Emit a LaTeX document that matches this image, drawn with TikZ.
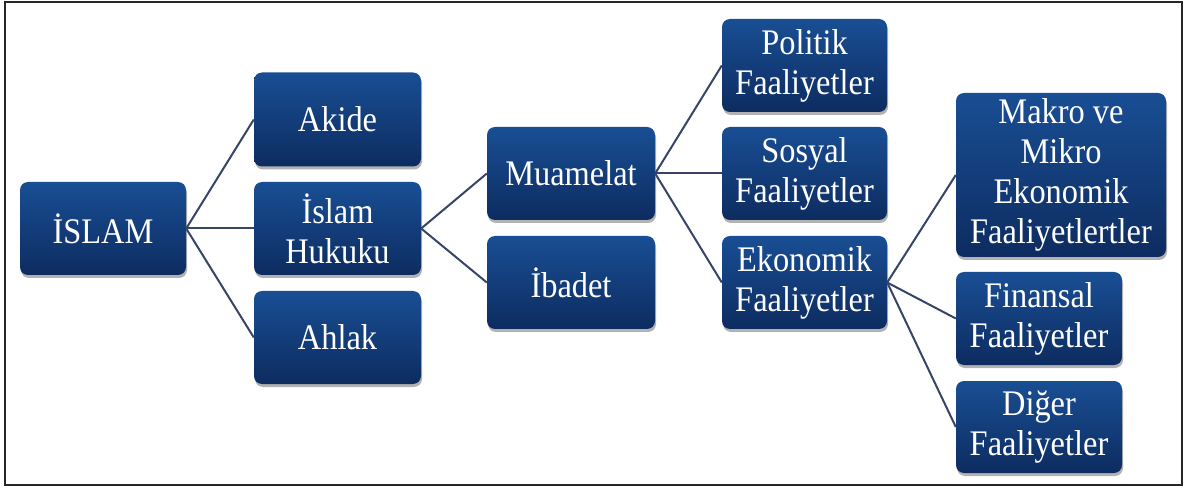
\documentclass[tikz,border=0pt]{standalone}
\usepackage{fontspec}
\setmainfont{Liberation Serif}[FakeStretch=0.9]
\usetikzlibrary{shadows}
\definecolor{boxtop}{RGB}{25,78,148}
\definecolor{boxmid}{RGB}{20,68,136}
\definecolor{boxbot}{RGB}{13,44,96}
\definecolor{linkc}{RGB}{55,68,104}
\tikzset{
  box/.style={rectangle, rounded corners=8pt, top color=boxtop, middle color=boxmid, bottom color=boxbot,
    draw=none, text=white, align=center, inner sep=0pt,
    font=\fontsize{36}{40}\selectfont,
    drop shadow={shadow xshift=1pt, shadow yshift=-3pt, opacity=0.3, fill=black}},
  link/.style={draw=linkc, line width=2pt}
}
\begin{document}
\begin{tikzpicture}[x=1pt,y=-1pt]
\useasboundingbox (0,0) rectangle (1187,489);
\draw[line width=2pt, black!85] (5,2) rectangle (1182,485);
\node[box, minimum width=166pt, minimum height=93pt] (islam) at (103,228.5) {İSLAM};
\node[box, minimum width=167pt, minimum height=94pt] (akide) at (337.5,119.5) {Akide};
\node[box, minimum width=167pt, minimum height=93pt] (hukuk) at (337.5,228.5) {İslam\\Hukuku};
\node[box, minimum width=167pt, minimum height=93pt] (ahlak) at (337.5,337.5) {Ahlak};
\node[box, minimum width=168pt, minimum height=93pt] (muam) at (571,173.5) {Muamelat};
\node[box, minimum width=168pt, minimum height=93pt] (ibadet) at (571,282.5) {İbadet};
\node[box, minimum width=165pt, minimum height=93pt] (politik) at (804.5,65.5) {Politik\\Faaliyetler};
\node[box, minimum width=165pt, minimum height=93pt] (sosyal) at (804.5,173.5) {Sosyal\\Faaliyetler};
\node[box, minimum width=165pt, minimum height=93pt] (ekon) at (804.5,282.5) {Ekonomik\\Faaliyetler};
\node[box, minimum width=210pt, minimum height=164pt] (makro) at (1061,175) {Makro ve\\Mikro\\Ekonomik\\Faaliyetlertler};
\node[box, minimum width=166pt, minimum height=93pt] (finans) at (1039,318.5) {Finansal\\Faaliyetler};
\node[box, minimum width=166pt, minimum height=92pt] (diger) at (1039,427) {Diğer\\Faaliyetler};
\draw[link] (islam.east) -- (akide.west);
\draw[link] (islam.east) -- (hukuk.west);
\draw[link] (islam.east) -- (ahlak.west);
\draw[link] (hukuk.east) -- (muam.west);
\draw[link] (hukuk.east) -- (ibadet.west);
\draw[link] (muam.east) -- (politik.west);
\draw[link] (muam.east) -- (sosyal.west);
\draw[link] (muam.east) -- (ekon.west);
\draw[link] (ekon.east) -- (makro.west);
\draw[link] (ekon.east) -- (finans.west);
\draw[link] (ekon.east) -- (diger.west);
\end{tikzpicture}
\end{document}
